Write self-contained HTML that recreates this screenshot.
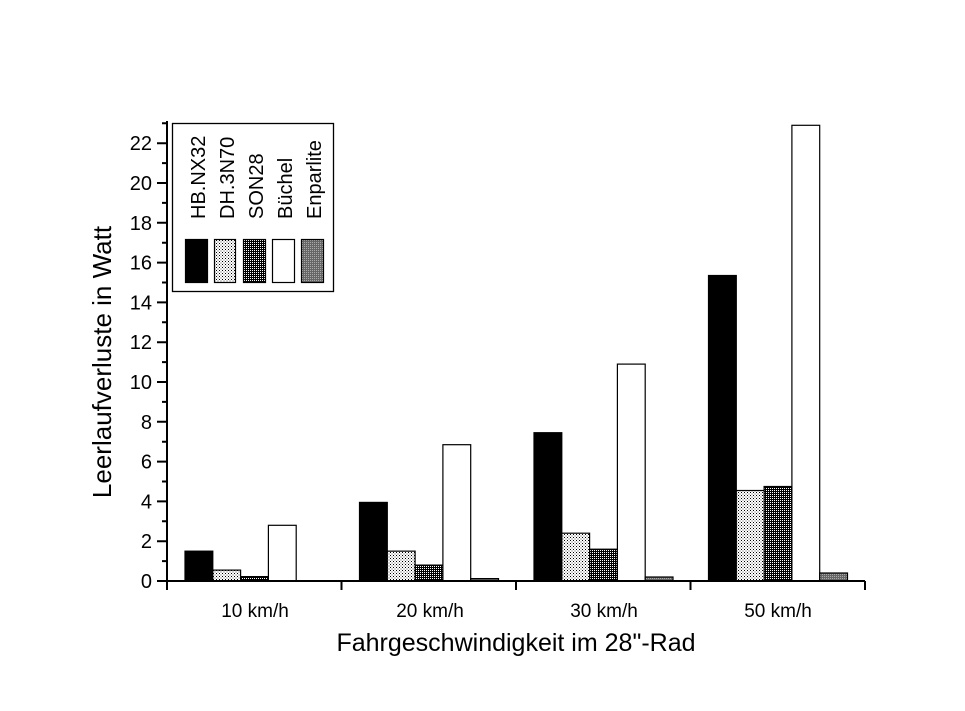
<!DOCTYPE html>
<html><head><meta charset="utf-8"><style>body{margin:0;background:#fff}svg{display:block}</style></head><body>
<svg width="965" height="711" xmlns="http://www.w3.org/2000/svg" font-family="Liberation Sans, Arial, sans-serif">
<defs>
<pattern id="pL" width="3" height="3" patternUnits="userSpaceOnUse"><rect width="3" height="3" fill="#fff"/><rect width="1" height="1" fill="#000"/><rect x="1.5" y="1.5" width="1" height="1" fill="#555"/></pattern>
<pattern id="pD" width="2" height="2" patternUnits="userSpaceOnUse"><rect width="2" height="2" fill="#000"/><rect width="1" height="1" fill="#fff"/></pattern>
<pattern id="pM" width="2" height="2" patternUnits="userSpaceOnUse"><rect width="2" height="2" fill="#666"/><rect width="1" height="1" fill="#aaa"/></pattern>
</defs>
<g stroke="#000" stroke-width="1.2">
<rect x="185" y="551.15" width="27.8" height="29.85" fill="#000"/>
<rect x="212.8" y="570.1" width="27.8" height="10.9" fill="url(#pL)"/>
<rect x="240.6" y="576.6" width="27.8" height="4.4" fill="url(#pD)"/>
<rect x="268.4" y="525.3" width="27.8" height="55.7" fill="#fff"/>

<rect x="359.5" y="502.4" width="27.8" height="78.6" fill="#000"/>
<rect x="387.3" y="551.15" width="27.8" height="29.85" fill="url(#pL)"/>
<rect x="415.1" y="565.1" width="27.8" height="15.9" fill="url(#pD)"/>
<rect x="442.9" y="444.7" width="27.8" height="136.3" fill="#fff"/>
<rect x="470.7" y="578.6" width="27.8" height="2.4" fill="url(#pM)"/>

<rect x="534" y="432.7" width="27.8" height="148.3" fill="#000"/>
<rect x="561.8" y="533.2" width="27.8" height="47.8" fill="url(#pL)"/>
<rect x="589.6" y="549.2" width="27.8" height="31.8" fill="url(#pD)"/>
<rect x="617.4" y="364.1" width="27.8" height="216.9" fill="#fff"/>
<rect x="645.2" y="577" width="27.8" height="4" fill="url(#pM)"/>

<rect x="708.5" y="275.5" width="27.8" height="305.5" fill="#000"/>
<rect x="736.3" y="490.5" width="27.8" height="90.5" fill="url(#pL)"/>
<rect x="764.1" y="486.5" width="27.8" height="94.5" fill="url(#pD)"/>
<rect x="791.9" y="125.3" width="27.8" height="455.7" fill="#fff"/>
<rect x="819.7" y="573" width="27.8" height="8" fill="url(#pM)"/>
</g>
<g stroke="#000" stroke-width="2" fill="none">
<line x1="167" y1="121" x2="167" y2="582"/>
<line x1="166" y1="581" x2="865" y2="581"/>
<path d="M157 581H167M162 561.1H167M157 541.2H167M162 521.3H167M157 501.4H167M162 481.5H167M157 461.6H167M162 441.7H167M157 421.8H167M162 401.9H167M157 382H167M162 362.1H167M157 342.2H167M162 322.3H167M157 302.4H167M162 282.5H167M157 262.6H167M162 242.7H167M157 222.8H167M162 202.9H167M157 183H167M162 163.1H167M157 143.2H167M162 123.3H167"/>
<path d="M167 581V590M341.5 581V590M516 581V590M690.5 581V590M865 581V590"/>
</g>
<g font-size="20" text-anchor="end">
<text x="152" y="588">0</text><text x="152" y="548.2">2</text><text x="152" y="508.4">4</text><text x="152" y="468.6">6</text><text x="152" y="428.8">8</text><text x="152" y="389">10</text><text x="152" y="349.2">12</text><text x="152" y="309.4">14</text><text x="152" y="269.6">16</text><text x="152" y="229.8">18</text><text x="152" y="190">20</text><text x="152" y="150.2">22</text>
</g>
<g font-size="19" text-anchor="middle">
<text x="255" y="617">10 km/h</text><text x="430" y="617">20 km/h</text><text x="604" y="617">30 km/h</text><text x="778" y="617">50 km/h</text>
</g>
<text x="516" y="651" font-size="25" text-anchor="middle">Fahrgeschwindigkeit im 28"-Rad</text>
<text transform="translate(111,362) rotate(-90)" font-size="26" text-anchor="middle">Leerlaufverluste in Watt</text>
<rect x="172.5" y="123.5" width="161" height="168" fill="#fff" stroke="#000" stroke-width="1.3"/>
<g font-size="20">
<text transform="translate(205,219) rotate(-90)">HB.NX32</text>
<text transform="translate(234,219) rotate(-90)">DH.3N70</text>
<text transform="translate(263,219) rotate(-90)">SON28</text>
<text transform="translate(292,219) rotate(-90)">Büchel</text>
<text transform="translate(321,219) rotate(-90)">Enparlite</text>
</g>
<g stroke="#000" stroke-width="1.2">
<rect x="185.5" y="239.5" width="22" height="43" fill="#000"/>
<rect x="214.5" y="239.5" width="21" height="43" fill="url(#pL)"/>
<rect x="243.5" y="239.5" width="22" height="43" fill="url(#pD)"/>
<rect x="272.5" y="239.5" width="22" height="43" fill="#fff"/>
<rect x="301.5" y="239.5" width="22" height="43" fill="url(#pM)"/>
</g>
</svg>
</body></html>
